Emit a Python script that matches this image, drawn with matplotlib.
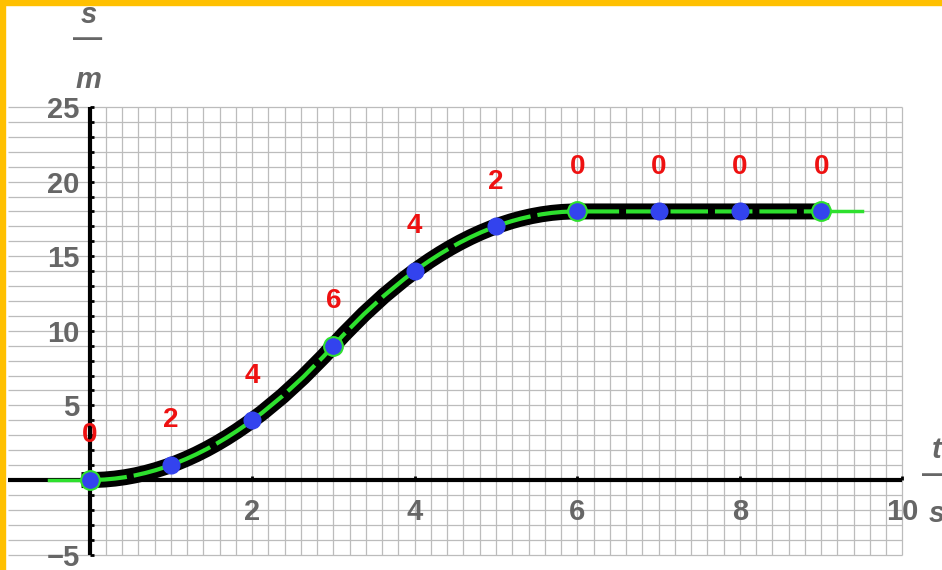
import numpy as np
import matplotlib.pyplot as plt
from matplotlib.path import Path
from matplotlib.patches import PathPatch, Rectangle
from matplotlib.ticker import FixedLocator

plt.rcParams['font.family'] = ['Liberation Sans', 'DejaVu Sans']
plt.rcParams['lines.scale_dashes'] = False

# data: time in s, position in m, speed (red labels)
t = [0, 1, 2, 3, 4, 5, 6, 7, 8, 9]
s = [0, 1, 4, 9, 14, 17, 18, 18, 18, 18]
v = [0, 2, 4, 6, 4, 2, 0, 0, 0, 0]
ringed = [0, 3, 6, 9]          # points drawn with a green ring
t_lead = [-0.5, 9.5]           # where the green line starts / ends

x_ticks = [2, 4, 6, 8, 10]
y_ticks = [-5, 5, 10, 15, 20, 25]

GRAY = '#666666'
GREEN = '#2ee02e'
BLUE = '#3343ee'
RED = '#ee1111'

fig = plt.figure(figsize=(9.42, 5.70), dpi=100)
ax = fig.add_axes([0, 0, 1, 1])
ax.set_xlim(-1.101, 10.486)
ax.set_ylim(-6.03, 32.17)
ax.patch.set_alpha(0)

# grid paper
ax.hlines(np.arange(-5, 26, 1), -1.0, 10, color='#bcbcbc', lw=0.9, zorder=1)
ax.vlines(np.arange(0.2, 10.01, 0.2), -5, 25, color='#bcbcbc', lw=0.9, zorder=1)

# axes through the origin
for side in ['top', 'right']:
    ax.spines[side].set_visible(False)
ax.spines['left'].set_position(('data', 0))
ax.spines['left'].set_bounds(-5, 25)
ax.spines['bottom'].set_position(('data', 0))
ax.spines['bottom'].set_bounds(-1.0, 10)
for side in ['left', 'bottom']:
    ax.spines[side].set_linewidth(3)
    ax.spines[side].set_capstyle('butt')

ax.set_xticks(x_ticks)
ax.set_yticks(y_ticks)
ax.yaxis.set_minor_locator(FixedLocator(np.arange(-5, 26, 1)))
ax.tick_params(which='both', direction='in', length=3, width=2, color='black')
ax.tick_params(axis='x', pad=13, labelsize=21, labelcolor=GRAY)
ax.tick_params(axis='y', pad=7, labelsize=21, labelcolor=GRAY)
for lab in ax.get_xticklabels() + ax.get_yticklabels():
    lab.set_fontweight('bold')

# smooth s(t): cubic segments with slope v at every point
verts = [(t[0], s[0])]
codes = [Path.MOVETO]
for i in range(len(t) - 1):
    dt = t[i + 1] - t[i]
    verts += [(t[i] + dt / 3, s[i] + v[i] * dt / 3),
              (t[i + 1] - dt / 3, s[i + 1] - v[i + 1] * dt / 3),
              (t[i + 1], s[i + 1])]
    codes += [Path.CURVE4] * 3
path = Path(verts, codes)

ax.add_patch(PathPatch(path, fc='none', ec='black', lw=11.5,
                       capstyle='projecting', zorder=3))
green = PathPatch(path, fc='none', ec=GREEN, lw=3, zorder=4,
                  linestyle=(0, (27, 5)), capstyle='butt')
ax.add_patch(green)
ax.plot([t_lead[0], t[0]], [s[0], s[0]], color=GREEN, lw=2.5, zorder=4)
ax.plot([t[-1], t_lead[1]], [s[-1], s[-1]], color=GREEN, lw=2.5, zorder=4)

# points
ax.plot(t, s, 'o', color=BLUE, ms=12, mec=BLUE, zorder=5)
ax.plot([t[i] for i in ringed], [s[i] for i in ringed], 'o', color=BLUE,
        ms=13.5, mec=GREEN, mew=1.5, zorder=6)

# speed labels
for ti, si, vi in zip(t, s, v):
    ax.text(ti, si + 3, str(vi), color=RED, fontsize=20, fontweight='bold',
            ha='center', va='center', zorder=7)

# axis labels as stacked fractions
lab_kw = dict(color=GRAY, fontsize=21, fontweight='bold', ha='center',
              va='baseline', clip_on=False, zorder=7)
ax.text(-0.01, 30.6, 's', style='italic', **lab_kw)
ax.text(-0.02, 29.0, '\u2014', **lab_kw)
ax.text(-0.01, 26.3, 'm', style='italic', **lab_kw)
ax.text(10.42, 1.5, 't', style='italic', **lab_kw)
ax.text(10.42, -0.2, '\u2014', **lab_kw)
ax.text(10.42, -2.8, 's', style='italic', **lab_kw)

# orange frame (top and left edges visible)
fig.patches.append(Rectangle((0, 1 - 5 / 570), 1, 5 / 570,
                             transform=fig.transFigure, color='#ffc000'))
fig.patches.append(Rectangle((0, 0), 5 / 942, 1,
                             transform=fig.transFigure, color='#ffc000'))

fig.savefig('out.png', dpi=100)
